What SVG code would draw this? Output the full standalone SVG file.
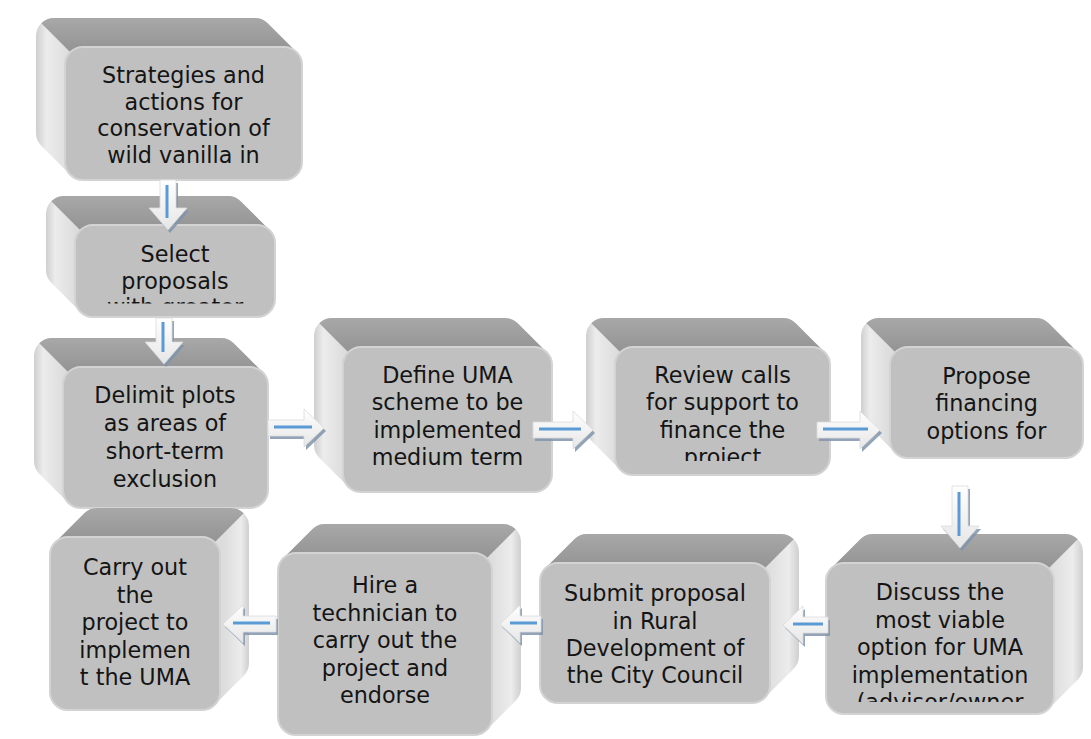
<svg xmlns="http://www.w3.org/2000/svg" width="1091" height="739" viewBox="0 0 1091 739">
<defs>
<linearGradient id="sideG" x1="0" y1="0" x2="1" y2="0">
<stop offset="0" stop-color="#cfcfcf"/>
<stop offset="0.04" stop-color="#ececec"/>
<stop offset="0.13" stop-color="#dcdcdc"/>
<stop offset="1" stop-color="#dcdcdc"/>
</linearGradient>
<linearGradient id="topG" x1="0" y1="0" x2="0" y2="1">
<stop offset="0" stop-color="#a8a8a8"/>
<stop offset="1" stop-color="#939393"/>
</linearGradient>
<linearGradient id="arrowG" x1="0" y1="0" x2="0" y2="1">
<stop offset="0" stop-color="#ffffff"/>
<stop offset="1" stop-color="#e6e6e6"/>
</linearGradient>
<clipPath id="clip2"><rect x="75" y="225" width="200" height="78.5"/></clipPath>
<clipPath id="clip5"><rect x="615" y="347" width="215" height="114"/></clipPath>
<clipPath id="clip10"><rect x="826" y="563" width="228" height="139"/></clipPath>
</defs>
<style>
.sil{fill:url(#sideG)}
.top{fill:url(#topG)}
.front{fill:#c0c0c0;stroke:#d3d3d3;stroke-width:2}
.lbl{font-family:"DejaVu Sans",Verdana,sans-serif;font-size:22.3px;fill:#141414;text-anchor:middle}
.ash{fill:#8094ab;opacity:0.85}
.abody{fill:url(#arrowG);stroke:#dadada;stroke-width:0.8}
.aline{stroke:#5b9bd5;stroke-width:3;fill:none}
</style>

<g id="n1">
<g transform="translate(65,47)">
<path class="sil" d="M-11 -29 L190 -29 A18 18 0 0 1 202.7 -23.7 L231.7 5.3 A18 18 0 0 1 237 18 L237 115 A18 18 0 0 1 219 133 L18 133 A18 18 0 0 1 5.3 127.7 L-23.7 98.7 A18 18 0 0 1 -29 86 L-29 -11 A18 18 0 0 1 -11 -29 Z"/>
<path class="top" d="M-23.7 -23.7 A18 18 0 0 1 -11 -29 L190 -29 A18 18 0 0 1 202.7 -23.7 L231.7 5.3 A18 18 0 0 0 219 0 L18 0 A18 18 0 0 0 5.3 5.3 Z"/>
<rect class="front" x="0" y="0" width="237" height="133" rx="18"/>
</g>
<text class="lbl" x="183.5" y="83">Strategies and</text>
<text class="lbl" x="183.5" y="109.7">actions for</text>
<text class="lbl" x="183.5" y="136.4">conservation of</text>
<text class="lbl" x="183.5" y="163">wild vanilla in</text>
</g>

<g id="n2">
<g transform="translate(75,225)">
<path class="sil" d="M-11 -29 L153 -29 A18 18 0 0 1 165.7 -23.7 L194.7 5.3 A18 18 0 0 1 200 18 L200 74 A18 18 0 0 1 182 92 L18 92 A18 18 0 0 1 5.3 86.7 L-23.7 57.7 A18 18 0 0 1 -29 45 L-29 -11 A18 18 0 0 1 -11 -29 Z"/>
<path class="top" d="M-23.7 -23.7 A18 18 0 0 1 -11 -29 L153 -29 A18 18 0 0 1 165.7 -23.7 L194.7 5.3 A18 18 0 0 0 182 0 L18 0 A18 18 0 0 0 5.3 5.3 Z"/>
<rect class="front" x="0" y="0" width="200" height="92" rx="18"/>
</g>
<g clip-path="url(#clip2)">
<text class="lbl" x="175" y="262">Select</text>
<text class="lbl" x="175" y="288.7">proposals</text>
<text class="lbl" x="175" y="315.4">with greater</text>
</g>
</g>

<g id="n3">
<g transform="translate(63,367)">
<path class="sil" d="M-11 -29 L158 -29 A18 18 0 0 1 170.7 -23.7 L199.7 5.3 A18 18 0 0 1 205 18 L205 123 A18 18 0 0 1 187 141 L18 141 A18 18 0 0 1 5.3 135.7 L-23.7 106.7 A18 18 0 0 1 -29 94 L-29 -11 A18 18 0 0 1 -11 -29 Z"/>
<path class="top" d="M-23.7 -23.7 A18 18 0 0 1 -11 -29 L158 -29 A18 18 0 0 1 170.7 -23.7 L199.7 5.3 A18 18 0 0 0 187 0 L18 0 A18 18 0 0 0 5.3 5.3 Z"/>
<rect class="front" x="0" y="0" width="205" height="141" rx="18"/>
</g>
<text class="lbl" x="165" y="403">Delimit plots</text>
<text class="lbl" x="165" y="431">as areas of</text>
<text class="lbl" x="165" y="459">short-term</text>
<text class="lbl" x="165" y="487">exclusion</text>
</g>

<g id="n4">
<g transform="translate(343,347)">
<path class="sil" d="M-11 -29 L162 -29 A18 18 0 0 1 174.7 -23.7 L203.7 5.3 A18 18 0 0 1 209 18 L209 127 A18 18 0 0 1 191 145 L18 145 A18 18 0 0 1 5.3 139.7 L-23.7 110.7 A18 18 0 0 1 -29 98 L-29 -11 A18 18 0 0 1 -11 -29 Z"/>
<path class="top" d="M-23.7 -23.7 A18 18 0 0 1 -11 -29 L162 -29 A18 18 0 0 1 174.7 -23.7 L203.7 5.3 A18 18 0 0 0 191 0 L18 0 A18 18 0 0 0 5.3 5.3 Z"/>
<rect class="front" x="0" y="0" width="209" height="145" rx="18"/>
</g>
<text class="lbl" x="447.5" y="383">Define UMA</text>
<text class="lbl" x="447.5" y="410.3">scheme to be</text>
<text class="lbl" x="447.5" y="437.7">implemented</text>
<text class="lbl" x="447.5" y="465">medium term</text>
</g>

<g id="n5">
<g transform="translate(615,347)">
<path class="sil" d="M-11 -29 L168 -29 A18 18 0 0 1 180.7 -23.7 L209.7 5.3 A18 18 0 0 1 215 18 L215 110 A18 18 0 0 1 197 128 L18 128 A18 18 0 0 1 5.3 122.7 L-23.7 93.7 A18 18 0 0 1 -29 81 L-29 -11 A18 18 0 0 1 -11 -29 Z"/>
<path class="top" d="M-23.7 -23.7 A18 18 0 0 1 -11 -29 L168 -29 A18 18 0 0 1 180.7 -23.7 L209.7 5.3 A18 18 0 0 0 197 0 L18 0 A18 18 0 0 0 5.3 5.3 Z"/>
<rect class="front" x="0" y="0" width="215" height="128" rx="18"/>
</g>
<g clip-path="url(#clip5)">
<text class="lbl" x="722.5" y="383">Review calls</text>
<text class="lbl" x="722.5" y="410.3">for support to</text>
<text class="lbl" x="722.5" y="437.7">finance the</text>
<text class="lbl" x="722.5" y="465">project</text>
</g>
</g>

<g id="n6">
<g transform="translate(890,347)">
<path class="sil" d="M-11 -29 L146 -29 A18 18 0 0 1 158.7 -23.7 L187.7 5.3 A18 18 0 0 1 193 18 L193 93 A18 18 0 0 1 175 111 L18 111 A18 18 0 0 1 5.3 105.7 L-23.7 76.7 A18 18 0 0 1 -29 64 L-29 -11 A18 18 0 0 1 -11 -29 Z"/>
<path class="top" d="M-23.7 -23.7 A18 18 0 0 1 -11 -29 L146 -29 A18 18 0 0 1 158.7 -23.7 L187.7 5.3 A18 18 0 0 0 175 0 L18 0 A18 18 0 0 0 5.3 5.3 Z"/>
<rect class="front" x="0" y="0" width="193" height="111" rx="18"/>
</g>
<text class="lbl" x="986.5" y="384">Propose</text>
<text class="lbl" x="986.5" y="411">financing</text>
<text class="lbl" x="986.5" y="438.5">options for</text>
</g>

<g id="n7">
<g transform="translate(220,537) scale(-1,1)">
<path class="sil" d="M-11 -29 L123 -29 A18 18 0 0 1 135.7 -23.7 L164.7 5.3 A18 18 0 0 1 170 18 L170 155 A18 18 0 0 1 152 173 L18 173 A18 18 0 0 1 5.3 167.7 L-23.7 138.7 A18 18 0 0 1 -29 126 L-29 -11 A18 18 0 0 1 -11 -29 Z"/>
<path class="top" d="M-23.7 -23.7 A18 18 0 0 1 -11 -29 L123 -29 A18 18 0 0 1 135.7 -23.7 L164.7 5.3 A18 18 0 0 0 152 0 L18 0 A18 18 0 0 0 5.3 5.3 Z"/>
<rect class="front" x="0" y="0" width="170" height="173" rx="18"/>
</g>
<text class="lbl" x="135" y="575">Carry out</text>
<text class="lbl" x="135" y="602.5">the</text>
<text class="lbl" x="135" y="630">project to</text>
<text class="lbl" x="135" y="657.5">implemen</text>
<text class="lbl" x="135" y="685">t the UMA</text>
</g>

<g id="n8">
<g transform="translate(492,553) scale(-1,1)">
<path class="sil" d="M-11 -29 L167 -29 A18 18 0 0 1 179.7 -23.7 L208.7 5.3 A18 18 0 0 1 214 18 L214 164 A18 18 0 0 1 196 182 L18 182 A18 18 0 0 1 5.3 176.7 L-23.7 147.7 A18 18 0 0 1 -29 135 L-29 -11 A18 18 0 0 1 -11 -29 Z"/>
<path class="top" d="M-23.7 -23.7 A18 18 0 0 1 -11 -29 L167 -29 A18 18 0 0 1 179.7 -23.7 L208.7 5.3 A18 18 0 0 0 196 0 L18 0 A18 18 0 0 0 5.3 5.3 Z"/>
<rect class="front" x="0" y="0" width="214" height="182" rx="18"/>
</g>
<text class="lbl" x="385" y="593">Hire a</text>
<text class="lbl" x="385" y="620.5">technician to</text>
<text class="lbl" x="385" y="648">carry out the</text>
<text class="lbl" x="385" y="675.5">project and</text>
<text class="lbl" x="385" y="703">endorse</text>
</g>

<g id="n9">
<g transform="translate(770,563) scale(-1,1)">
<path class="sil" d="M-11 -29 L183 -29 A18 18 0 0 1 195.7 -23.7 L224.7 5.3 A18 18 0 0 1 230 18 L230 122 A18 18 0 0 1 212 140 L18 140 A18 18 0 0 1 5.3 134.7 L-23.7 105.7 A18 18 0 0 1 -29 93 L-29 -11 A18 18 0 0 1 -11 -29 Z"/>
<path class="top" d="M-23.7 -23.7 A18 18 0 0 1 -11 -29 L183 -29 A18 18 0 0 1 195.7 -23.7 L224.7 5.3 A18 18 0 0 0 212 0 L18 0 A18 18 0 0 0 5.3 5.3 Z"/>
<rect class="front" x="0" y="0" width="230" height="140" rx="18"/>
</g>
<text class="lbl" x="655" y="601">Submit proposal</text>
<text class="lbl" x="655" y="628.5">in Rural</text>
<text class="lbl" x="655" y="656">Development of</text>
<text class="lbl" x="655" y="683">the City Council</text>
</g>

<g id="n10">
<g transform="translate(1054,563) scale(-1,1)">
<path class="sil" d="M-11 -29 L181 -29 A18 18 0 0 1 193.7 -23.7 L222.7 5.3 A18 18 0 0 1 228 18 L228 133 A18 18 0 0 1 210 151 L18 151 A18 18 0 0 1 5.3 145.7 L-23.7 116.7 A18 18 0 0 1 -29 104 L-29 -11 A18 18 0 0 1 -11 -29 Z"/>
<path class="top" d="M-23.7 -23.7 A18 18 0 0 1 -11 -29 L181 -29 A18 18 0 0 1 193.7 -23.7 L222.7 5.3 A18 18 0 0 0 210 0 L18 0 A18 18 0 0 0 5.3 5.3 Z"/>
<rect class="front" x="0" y="0" width="228" height="151" rx="18"/>
</g>
<g clip-path="url(#clip10)">
<text class="lbl" x="940" y="600">Discuss the</text>
<text class="lbl" x="940" y="627.5">most viable</text>
<text class="lbl" x="940" y="655">option for UMA</text>
<text class="lbl" x="940" y="682.5">implementation</text>
<text class="lbl" x="940" y="710">(advisor/owner</text>
</g>
</g>

<g id="connectors">
<polygon class="ash" transform="translate(2,3)" points="160,180 176,180 176,208 187,208 168,230 149,208 160,208"/>
<polygon class="abody" points="160,180 176,180 176,208 187,208 168,230 149,208 160,208"/>
<line class="aline" x1="167" y1="185" x2="167" y2="218"/>
<polygon class="ash" transform="translate(2,3)" points="156,318 172,318 172,342 183,342 164,364 145,342 156,342"/>
<polygon class="abody" points="156,318 172,318 172,342 183,342 164,364 145,342 156,342"/>
<line class="aline" x1="163" y1="322" x2="163" y2="352"/>
<polygon class="ash" transform="translate(2,3)" points="268,420 304,420 304,409 324,428 304,447 304,436 268,436"/>
<polygon class="abody" points="268,420 304,420 304,409 324,428 304,447 304,436 268,436"/>
<line class="aline" x1="274" y1="427" x2="312" y2="427"/>
<polygon class="ash" transform="translate(2,3)" points="533,422 573,422 573,411 593,430 573,449 573,438 533,438"/>
<polygon class="abody" points="533,422 573,422 573,411 593,430 573,449 573,438 533,438"/>
<line class="aline" x1="539" y1="429" x2="581" y2="429"/>
<polygon class="ash" transform="translate(2,3)" points="817,422 860,422 860,411 880,430 860,449 860,438 817,438"/>
<polygon class="abody" points="817,422 860,422 860,411 880,430 860,449 860,438 817,438"/>
<line class="aline" x1="823" y1="429" x2="868" y2="429"/>
<polygon class="ash" transform="translate(2,3)" points="952,486 968,486 968,526 979,526 960,548 941,526 952,526"/>
<polygon class="abody" points="952,486 968,486 968,526 979,526 960,548 941,526 952,526"/>
<line class="aline" x1="959" y1="492" x2="959" y2="536"/>
<polygon class="ash" transform="translate(2,3)" points="828,617 803,617 803,606 783,625 803,644 803,633 828,633"/>
<polygon class="abody" points="828,617 803,617 803,606 783,625 803,644 803,633 828,633"/>
<line class="aline" x1="793" y1="624" x2="823" y2="624"/>
<polygon class="ash" transform="translate(2,3)" points="541,616 520,616 520,605 500,624 520,643 520,632 541,632"/>
<polygon class="abody" points="541,616 520,616 520,605 500,624 520,643 520,632 541,632"/>
<line class="aline" x1="510" y1="623" x2="537" y2="623"/>
<polygon class="ash" transform="translate(2,3)" points="276,616 243,616 243,605 223,624 243,643 243,632 276,632"/>
<polygon class="abody" points="276,616 243,616 243,605 223,624 243,643 243,632 276,632"/>
<line class="aline" x1="233" y1="623" x2="270" y2="623"/>
</g>
</svg>
